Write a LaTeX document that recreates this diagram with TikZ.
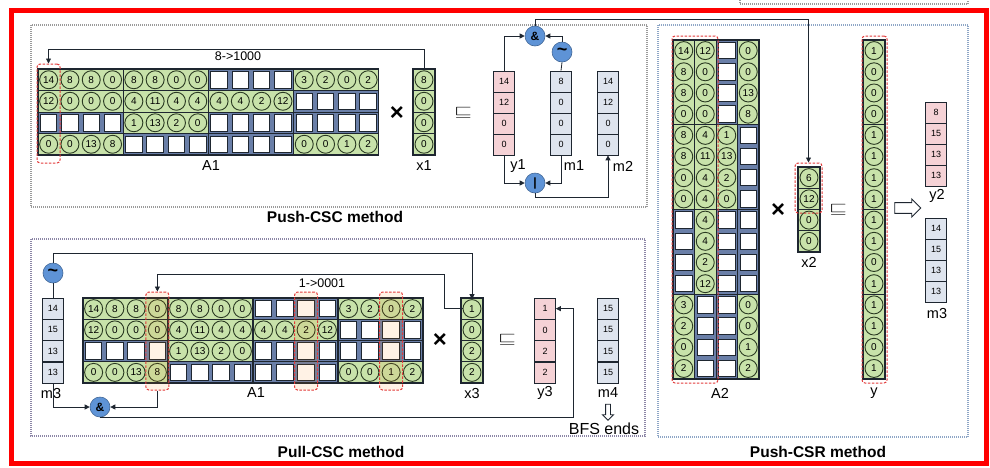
\documentclass[tikz,border=0pt]{standalone}
\usepackage{fontspec}
\setmainfont{Liberation Sans}
\usetikzlibrary{arrows.meta,positioning,shapes.arrows,calc}
\definecolor{ink}{HTML}{1E2630}
\definecolor{cellgreen}{HTML}{C8E2AA}
\definecolor{circink}{HTML}{2A3A22}
\definecolor{gapblue}{HTML}{6A7FA8}
\definecolor{pinkbg}{HTML}{F5D2D6}
\definecolor{bluebg}{HTML}{DEE4EE}
\definecolor{opblue}{HTML}{5E93D6}
\definecolor{hlred}{HTML}{E23A3A}
\definecolor{framered}{HTML}{FF0000}
\definecolor{pushgray}{HTML}{9A9A9A}
\definecolor{pullgray}{HTML}{8C86A6}
\definecolor{csrblue}{HTML}{8EA6C6}
\tikzset{
  gcirc/.style={circle,draw=circink,line width=0.9pt,minimum size=18pt,
                inner sep=0pt,font=\fontsize{10}{10}\selectfont},
  ecell/.style={draw=ink,fill=white,line width=1pt,minimum size=16.5pt,
                inner sep=0pt},
  rowline/.style={draw=ink,line width=0.7pt},
  blockframe/.style={draw=ink,line width=1.2pt},
  vcell/.style={draw=ink,line width=0.7pt,minimum width=21pt,
                minimum height=21pt,inner sep=0pt,
                font=\fontsize{9}{9}\selectfont},
  pinkcell/.style={vcell,fill=pinkbg},
  bluecell/.style={vcell,fill=bluebg},
  opcirc/.style={circle,fill=opblue,draw=opblue!70!black,line width=0.6pt,
                 minimum size=20pt,inner sep=0pt,
                 font=\fontsize{12}{12}\selectfont\bfseries},
  arr/.style={-{Triangle[length=5pt,width=5pt]},line width=0.8pt,draw=ink},
  plain/.style={line width=0.8pt,draw=ink},
  hlbox/.style={draw=hlred,dash pattern=on 2.5pt off 1.5pt,line width=1pt,
                rounded corners=3pt,inner sep=0pt},
  hltint/.style={fill=orange,fill opacity=0.1},
  lbl/.style={font=\fontsize{14.5}{14.5}\selectfont,inner sep=0pt},
  maplbl/.style={font=\fontsize{12.5}{12.5}\selectfont,inner sep=0pt},
  ttl/.style={font=\fontsize{15.5}{15.5}\selectfont\bfseries,inner sep=0pt},
  opsym/.style={font=\fontsize{24}{24}\selectfont\bfseries,inner sep=0pt},
  panel/.style={dash pattern=on 1pt off 1pt,line width=1.3pt},
  hollowarr/.style={single arrow,draw=ink,fill=white,line width=0.9pt,
                    inner sep=4pt,single arrow head extend=3pt}
}
\newcommand\eqsym{\scalebox{1.6}[1]{\fontsize{14}{14}\selectfont$\sqsubseteq$}}
\newcommand\notsym{{\fontsize{18}{18}\selectfont\textasciitilde}}
% sparse 4x16 matrix, -1 = empty cell
\newcommand\drawmat[2]{%
  \begin{scope}[#2]
    \foreach \rowvals [count=\i] in {{14,8,8,0,8,8,0,0,-1,-1,-1,-1,3,2,0,2},
        {12,0,0,0,4,11,4,4,4,4,2,12,-1,-1,-1,-1},
        {-1,-1,-1,-1,1,13,2,0,-1,-1,-1,-1,-1,-1,-1,-1},
        {0,0,13,8,-1,-1,-1,-1,-1,-1,-1,-1,0,0,1,2}}{
      \foreach \v [count=\j] in \rowvals {
        \ifnum\v<0
          \fill[gapblue] (\j-1,\i-1) rectangle (\j,\i);
          \node[ecell] (#1-\i-\j) at (\j-.5,\i-.5) {};
        \else
          \fill[cellgreen] (\j-1,\i-1) rectangle (\j,\i);
          \node[gcirc] (#1-\i-\j) at (\j-.5,\i-.5) {\v};
        \fi
      }
    }
    \foreach \b in {0,4,8,12} {
      \draw[rowline] (\b,1) -- (\b+4,1) (\b,2) -- (\b+4,2) (\b,3) -- (\b+4,3);
      \draw[blockframe] (\b,0) rectangle (\b+4,4);
    }
  \end{scope}}
% green column vector: name, x, top, cell height, values, count, separators
\newcommand\gvec[7]{%
  \foreach \v [count=\k] in {#5} {
    \fill[cellgreen] ({#2-11},{#3+(\k-1)*#4}) rectangle ({#2+11},{#3+\k*#4});
    \node[gcirc] (#1-\k) at (#2,{#3+(\k-.5)*#4}) {\v};
  }
  \foreach \k in {#7}
    \draw[rowline] ({#2-11},{#3+\k*#4}) -- ({#2+11},{#3+\k*#4});
  \draw[blockframe] ({#2-11},#3) rectangle ({#2+11},{#3+#6*#4});}

\begin{document}
\begin{tikzpicture}[x=1pt,y=-1pt]
  \path[use as bounding box] (0,0) rectangle (990,467);
  \draw[framered,line width=5pt] (11,10) rectangle (986,463);
  \draw[pushgray,panel] (740,0) -- (740,4) -- (968,4) -- (968,0);

  % panels
  \draw[pushgray,panel] (31,25) rectangle (647,207);
  \draw[pullgray,panel] (31,239) rectangle (645,436);
  \draw[csrblue,panel] (658,25) rectangle (968,437);
  \node[ttl] (ttlpush) at (335,217) {Push-CSC method};
  \node[ttl] (ttlpull) at (341,452) {Pull-CSC method};
  \node[ttl] (ttlcsr) at (818,452) {Push-CSR method};

  % Push-CSC
  \drawmat{pa}{shift={(38,69)},x={(21.3pt,0pt)},y={(0pt,-21.5pt)}}
  \node[hlbox,minimum width=23pt,minimum height=99pt] (pahl) at (48.5,113.5) {};
  \node[lbl] (palbl) at (211,166) {A1};
  \gvec{px}{424}{69}{21.5}{8,0,0,0}{4}{1,2,3}
  \node[lbl] (pxlbl) at (424,166) {x1};
  \node[opsym] (ptimes) at (397,113) {×};
  \node[opsym] (peq) at (463,113) {\eqsym};
  \foreach \v [count=\k] in {14,12,0,0}
    \node[pinkcell] (py-\k) at (504,{60.5+21*\k}) {\v};
  \foreach \v [count=\k] in {8,0,0,0}
    \node[bluecell] (pm1-\k) at (561,{60.5+21*\k}) {\v};
  \foreach \v [count=\k] in {14,12,0,0}
    \node[bluecell] (pm2-\k) at (608,{60.5+21*\k}) {\v};
  \node[lbl] (pylbl) at (518,166) {y1};
  \node[lbl] (pm1lbl) at (574,166) {m1};
  \node[lbl] (pm2lbl) at (623,166) {m2};
  \node[opcirc] (pand) at (535,36) {\&};
  \node[opcirc] (pnot) at (562,52) {\notsym};
  \node[opcirc] (por) at (535,183) {|};
  \draw[arr] (py-1.north) |- (pand.west);
  \draw[arr] (pnot.north) |- (pand.east);
  \draw[plain] (pm1-1.north) -- (pnot.south);
  \draw[arr] (py-4.south) |- (por.west);
  \draw[arr] (pm1-4.south) |- (por.east);
  \draw[arr] (por.south) -- ++(0,4) -| (pm2-4.south);
  \draw[arr] (px-1.north) -- ++(0,-21) -| (pahl.north);
  \node[maplbl] (pmap) at (238,56) {8->1000};

  % Pull-CSC
  \drawmat{la}{shift={(83,298)},x={(21.25pt,0pt)},y={(0pt,-21.25pt)}}
  \foreach \c/\cx in {4/157.4,11/306.1,15/391.1}
    \node[hlbox,hltint,minimum width=23pt,minimum height=98pt] (lhl\c) at (\cx,341) {};
  \node[lbl] (lalbl) at (256,393) {A1};
  \node[opcirc] (lnot) at (53,273) {\notsym};
  \foreach \v [count=\k] in {14,15,13,13}
    \node[bluecell] (lm3-\k) at (53,{287.4+21.25*\k}) {\v};
  \node[lbl] (lm3lbl) at (51,393) {m3};
  \node[opcirc] (land) at (100,407) {\&};
  \gvec{lx}{472}{298}{21.25}{1,0,2,2}{4}{1,2,3}
  \node[lbl] (lxlbl) at (472,393) {x3};
  \node[opsym] (ltimes) at (440,340) {×};
  \node[opsym] (leq) at (507,340) {\eqsym};
  \foreach \v [count=\k] in {1,0,2,2}
    \node[pinkcell] (ly-\k) at (545,{287.4+21.25*\k}) {\v};
  \foreach \v [count=\k] in {15,15,15,15}
    \node[bluecell] (lm4-\k) at (608,{287.4+21.25*\k}) {\v};
  \node[lbl] (lylbl) at (545,393) {y3};
  \node[lbl] (lm4lbl) at (608,393) {m4};
  \node[hollowarr,inner sep=2pt,minimum width=10pt,minimum height=16pt,
        rotate=-90] (ldown) at (608,411) {};
  \node[font=\fontsize{16}{16}\selectfont,inner sep=0pt] (lend) at (604,429) {BFS ends};
  \node[maplbl] (lmap) at (322,283) {1->0001};
  \draw[arr] (lnot.north) -- ++(0,-9) -| (lx-1.north);
  \draw[plain] (lnot.south) -- (lm3-1.north);
  \draw[arr] (lm3-4.south) |- (land.west);
  \draw[arr] (lhl4.south) |- (land.east);
  \draw[arr] (land.south) -| ([xshift=17.5pt]ly-1.east) -- (ly-1.east);
  \draw[arr] (lx-1.west) -- ++(-18,0) -- ++(0,-34) -| (lhl4.north);

  % Push-CSR
  \drawmat{ra}{shift={(673,40)},x={(0pt,-21.19pt)},y={(21.5pt,0pt)}}
  \node[hlbox,minimum width=46pt,minimum height=347pt] (rahl) at (695,209.5) {};
  \node[lbl] (ralbl) at (720,393) {A2};
  \node[opsym] (rtimes) at (778,210) {×};
  \gvec{rx}{809}{167}{21.25}{6,12,0,0}{4}{1,2,3}
  \node[hlbox,minimum width=27pt,minimum height=50pt] (rxhl) at (808.5,188) {};
  \node[lbl] (rxlbl) at (809,262) {x2};
  \node[opsym] (req) at (838,210) {\eqsym};
  \gvec{ry}{874}{40}{21.19}{1,0,0,0,1,1,1,1,1,1,0,1,1,1,0,1}{16}{4,8,12}
  \node[hlbox,minimum width=25pt,minimum height=347pt] (ryhl) at (874.5,209.5) {};
  \node[lbl] (rylbl) at (874,393) {y};
  \node[hollowarr,minimum width=18pt,minimum height=26pt] (rarr) at (905,208) {};
  \foreach \v [count=\k] in {8,15,13,13}
    \node[pinkcell] (ry2-\k) at (936,{91.5+21*\k}) {\v};
  \node[lbl] (ry2lbl) at (937,196) {y2};
  \foreach \v [count=\k] in {14,15,13,13}
    \node[bluecell] (rm3-\k) at (936,{207.5+21*\k}) {\v};
  \node[lbl] (rm3lbl) at (937,313) {m3};
  \draw[arr] (pand.north) -- ++(0,-6) -| (rxhl.north);
\end{tikzpicture}
\end{document}
